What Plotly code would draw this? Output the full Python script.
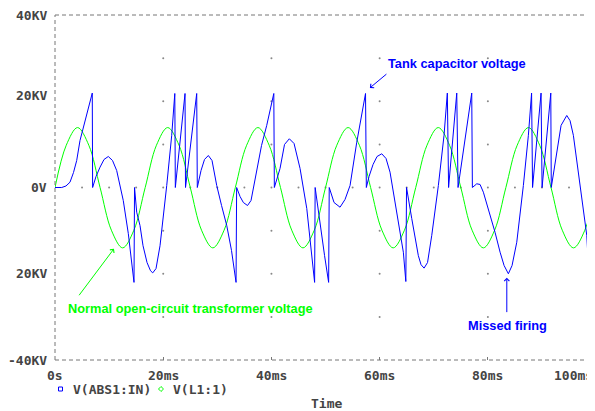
import plotly.graph_objects as go

# Zeit in ms, Spannung in KV
blue_t = [0.00, 1.24, 2.03, 2.77, 3.42, 4.01, 4.62, 5.86, 6.89, 6.95,
          7.58, 8.32, 9.06, 9.85, 10.63, 11.40, 12.01, 12.62, 13.55, 14.05,
          14.60, 14.70, 15.10, 15.71, 16.27, 17.01, 17.65, 18.06, 18.67, 19.41,
          20.06, 20.65, 21.57, 22.14, 22.24, 24.03, 24.12, 26.19, 26.30,
          26.99, 27.63, 28.34, 29.02, 29.89, 30.78, 31.74, 32.62, 33.46, 33.57,
          34.20, 34.81, 35.58, 36.23, 37.28, 38.17, 39.13, 40.44, 40.54,
          41.59, 42.42, 43.31, 44.18, 45.29, 46.53, 47.13, 47.74, 47.98, 48.08,
          48.98, 49.82, 50.57, 50.68, 51.57, 52.68, 53.60, 54.53, 55.77, 56.56,
          57.39, 57.54, 58.04, 58.78, 59.52, 60.39, 61.18, 61.92, 63.16, 64.38,
          64.84, 64.97, 65.93, 67.15, 67.65, 68.21, 68.85, 69.63, 70.85, 71.90,
          72.51, 72.74, 74.25, 74.49, 77.02, 77.14, 77.95, 78.56, 79.17, 80.41,
          81.33, 82.26, 83.00, 83.79, 84.47, 85.34, 85.95, 86.56, 87.49, 88.08,
          88.26, 89.83, 90.02, 91.63, 91.72, 92.74, 93.53, 94.58, 95.19, 95.80,
          97.04, 98.28, 98.76, 98.89, 99.50, 100.0]
blue_v = [0.0, 0.0, 0.35, 1.23, 3.48, 6.26, 10.9, 17.1, 21.9, 0.0,
          2.55, 4.71, 6.50, 7.19, 6.26, 3.94, 0.70, -3.02, -10.7, -15.8,
          -22.0, 0.0, -5.73, -8.82, -13.5, -17.4, -19.3, -19.8, -18.8, -13.5,
          -6.5, 0.46, 12.1, 21.8, 0.0, 21.8, 0.0, 21.8, 0.0,
          3.94, 6.50, 7.42, 6.26, 0.46, -4.18, -8.82, -14.6, -22.0, 0.0,
          -2.09, -3.48, -4.18, -3.02, 4.41, 9.74, 14.4, 21.8, 0.0,
          4.41, 9.98, 11.3, 10.2, 4.41, -4.87, -12.3, -19.7, -22.0, 0.0,
          -8.82, -15.8, -22.0, 0.0, -3.48, -4.57, -2.78, 0.46, 10.5, 16.2,
          21.8, 0.0, 2.55, 5.34, 7.19, 7.82, 6.73, 3.55, -5.73, -15.0,
          -21.8, 0.0, -7.19, -15.8, -17.9, -18.7, -17.4, -11.1, 0.46, 12.1,
          21.9, 0.0, 21.9, 0.0, 21.9, 0.0, 0.86, 0.70, -1.09, -6.10,
          -10.4, -15.0, -18.1, -20.0, -18.1, -12.7, -6.50, 0.46, 12.1, 21.9,
          0.0, 21.9, 0.0, 21.9, 0.0, 8.19, 14.4, 16.7, 15.5, 12.1,
          0.46, -11.1, -22.0, 0.0, -7.19, -10.0]

green_t = [0.0, 2.08, 4.17, 6.25, 8.33, 10.42, 12.5, 14.58,
           16.67, 18.75, 20.83, 22.92, 25.0, 27.08, 29.17, 31.25,
           33.33, 35.42, 37.5, 39.58, 41.67, 43.75, 45.83, 47.92,
           50.0, 52.08, 54.17, 56.25, 58.33, 60.42, 62.5, 64.58,
           66.67, 68.75, 70.83, 72.92, 75.0, 77.08, 79.17, 81.25,
           83.33, 85.42, 87.5, 89.58, 91.67, 93.75, 95.83, 97.92, 100.0]
green_v = [0.0, 9.8, 13.9, 9.8, 0.0, -9.9, -14.0, -9.9,
           0.0, 9.8, 13.9, 9.8, 0.0, -9.9, -14.0, -9.9,
           0.0, 9.8, 13.9, 9.8, 0.0, -9.9, -14.0, -9.9,
           0.0, 9.8, 13.9, 9.8, 0.0, -9.9, -14.0, -9.9,
           0.0, 9.8, 13.9, 9.8, 0.0, -9.9, -14.0, -9.9,
           0.0, 9.8, 13.9, 9.8, 0.0, -9.9, -14.0, -9.9, 0.0]

x_ticks = [0, 20, 40, 60, 80]
x_labels = ["0s", "20ms", "40ms", "60ms", "80ms"]
y_labels = [(40, "40KV"), (21.3, "20KV"), (0, "0V"), (-20.0, "20KV"), (-40, "-40KV")]
grid_y = [-30, -20, -10, 10, 20, 30]
zero_dots = [5, 10, 15, 25, 30, 35, 45, 50, 55, 65, 70, 75, 85, 90, 95]

XMAX = 99.8
AXFONT = dict(family="DejaVu Sans Mono", size=13, color="#444444", weight="bold")
BLUE = "#0000ff"
GREEN = "#00ff00"

# die Seite hat 8px Rand (body margin), daher Figur etwas kleiner
OFF = 8
W, H = 595 - OFF, 411 - OFF

fig = go.Figure()

# Rasterpunkte
gx = [x for x in x_ticks[1:] for _ in grid_y] + zero_dots + x_ticks[1:]
gy = [y for _ in x_ticks[1:] for y in grid_y] + [0] * len(zero_dots) + [0] * 4
fig.add_trace(go.Scatter(x=gx, y=gy, mode="markers", hoverinfo="skip",
                         marker=dict(size=2, color="#888888", line=dict(width=0))))

fig.add_trace(go.Scatter(x=green_t, y=green_v, mode="lines", name="V(L1:1)",
                         line=dict(color=GREEN, width=1, shape="spline")))
fig.add_trace(go.Scatter(x=blue_t, y=blue_v, mode="lines", name="V(ABS1:IN)",
                         line=dict(color=BLUE, width=1)))

# gestrichelter Rahmen
dash = dict(color="#777777", width=1, dash="4px,3px")
shapes = [
    dict(type="line", xref="paper", yref="paper", x0=0, x1=1, y0=1, y1=1, line=dash),
    dict(type="line", xref="paper", yref="paper", x0=0, x1=1, y0=0, y1=0, line=dash),
    dict(type="line", xref="paper", yref="paper", x0=0, x1=0, y0=0, y1=1, line=dash),
]
# Seitenpixel -> paper
px = lambda v: (v - 55) / 540.0
py = lambda v: (360 - v) / 345.0
shapes.append(dict(type="rect", xref="paper", yref="paper",
                   x0=px(58.5), x1=px(62.5), y0=py(391), y1=py(387),
                   line=dict(color=BLUE, width=1)))
shapes.append(dict(type="path", xref="paper", yref="paper",
                   path="M %f,%f L %f,%f L %f,%f L %f,%f Z" % (
                       px(158.5), py(389), px(161), py(386.5), px(163.5), py(389), px(161), py(391.5)),
                   line=dict(color=GREEN, width=1)))

annotations = []
for v, txt in zip(x_ticks, x_labels):
    annotations.append(dict(x=v, y=py(375), xref="x", yref="paper", text=txt,
                            showarrow=False, font=AXFONT, xanchor="center", yanchor="middle"))
annotations.append(dict(x=1, y=py(375), xref="paper", yref="paper", text="100ms",
                        showarrow=False, font=AXFONT, xanchor="right", yanchor="middle"))
for v, txt in y_labels:
    annotations.append(dict(x=0, y=v, xref="paper", yref="y", text=txt, xshift=-6,
                            showarrow=False, font=AXFONT, xanchor="right", yanchor="middle"))
annotations.append(dict(x=px(71), y=py(389), xref="paper", yref="paper", text="V(ABS1:IN)",
                        showarrow=False, font=AXFONT, xanchor="left", yanchor="middle"))
annotations.append(dict(x=px(171), y=py(389), xref="paper", yref="paper", text="V(L1:1)",
                        showarrow=False, font=AXFONT, xanchor="left", yanchor="middle"))
annotations.append(dict(x=px(326.5), y=py(403), xref="paper", yref="paper", text="Time",
                        showarrow=False, font=AXFONT, xanchor="center", yanchor="middle"))

# Beschriftungen mit Pfeilen
LFONT = dict(family="Liberation Sans", size=12.8, weight="bold")
annotations += [
    dict(x=74.3, y=28.8, text="Tank capacitor voltage", showarrow=False,
         font=dict(LFONT, color=BLUE)),
    dict(x=58.2, y=23.1, ax=18, ay=-15, text="", showarrow=True, arrowhead=4,
         arrowsize=1, arrowwidth=1, arrowcolor=BLUE),
    dict(x=25.0, y=-28.1, text="Normal open-circuit transformer voltage", showarrow=False,
         font=dict(LFONT, color=GREEN)),
    dict(x=10.9, y=-14.2, ax=-36, ay=48, text="", showarrow=True, arrowhead=4,
         arrowsize=1, arrowwidth=1, arrowcolor=GREEN),
    dict(x=83.7, y=-32.0, text="Missed firing", showarrow=False,
         font=dict(LFONT, color=BLUE)),
    dict(x=83.5, y=-20.9, ax=0, ay=36, text="", showarrow=True, arrowhead=4,
         arrowsize=1, arrowwidth=1, arrowcolor=BLUE),
]

fig.update_layout(
    width=W, height=H,
    margin=dict(l=55 - OFF, r=0, t=15 - OFF, b=H - (15 - OFF) - 345),
    paper_bgcolor="white", plot_bgcolor="white",
    showlegend=False,
    shapes=shapes, annotations=annotations,
    xaxis=dict(range=[0, XMAX], tickvals=x_ticks, showticklabels=False,
               ticks="inside", ticklen=3, tickcolor="#777777",
               showgrid=False, zeroline=False, showline=False, fixedrange=True),
    yaxis=dict(range=[-40, 40], showticklabels=False, ticks="",
               showgrid=False, zeroline=False, showline=False, fixedrange=True),
)

fig.write_html("out.html")
